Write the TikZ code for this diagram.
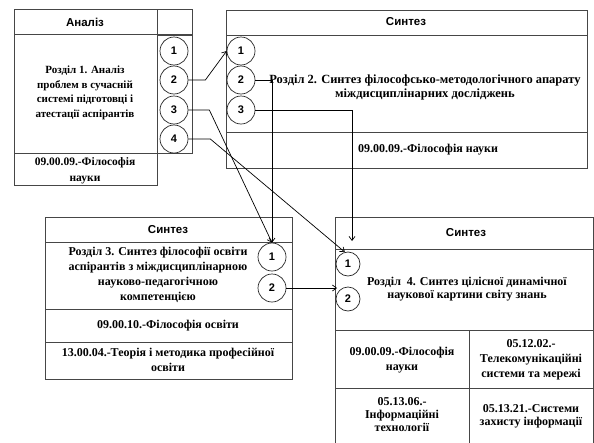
\documentclass[tikz,border=0pt]{standalone}
\usepackage{fontspec}
\setmainfont{Liberation Serif}
\newfontfamily\hdrfont{Liberation Sans}
\usetikzlibrary{arrows.meta,calc}
\tikzset{
  frame/.style={draw=gray!55!black, line width=0.8pt},
  hdrtext/.style={font=\hdrfont\bfseries\fontsize{11.5}{13}\selectfont, inner sep=0pt},
  bodytext/.style={font=\bfseries\fontsize{12}{15}\selectfont, align=center, inner sep=0pt},
  bodysmall/.style={bodytext, font=\bfseries\fontsize{11}{14.5}\selectfont},
  num/.style={circle, draw=gray!30!black, line width=0.7pt, minimum size=28pt, inner sep=0pt, font=\hdrfont\bfseries\fontsize{11}{12}\selectfont},
  numsmall/.style={num, minimum size=24pt},
  conn/.style={draw=black, line width=0.7pt, -{Straight Barb[length=4pt,width=6pt]}}
}
\begin{document}
\begin{tikzpicture}[x=1pt,y=-1pt]
\useasboundingbox (0,0) rectangle (594,442);
% ---- Box A
\draw[frame] (14,9) rectangle (157,185);
\draw[frame] (14,34) -- (157,34);
\draw[frame] (14,153) -- (157,153);
\draw[frame] (157,9) rectangle (192,34);
\draw[frame] (157,35) rectangle (192,153);
\node[hdrtext] (Ah) at (85,22) {Аналіз};
\node[bodysmall] (At) at (85,93) {Розділ 1. Аналіз\\проблем в сучасній\\системі підготовці і\\атестації аспірантів};
\node[bodysmall, font=\bfseries\fontsize{11.5}{16}\selectfont] (Af) at (85,171) {09.00.09.-Філософія\\науки};
\node[num] (A1) at (174,51) {1};
\node[num] (A2) at (174,80) {2};
\node[num] (A3) at (174,110) {3};
\node[num] (A4) at (174,139) {4};
% ---- Box B
\draw[frame] (226,10) rectangle (587,168);
\draw[frame] (226,35) -- (587,35);
\draw[frame] (226,132) -- (587,132);
\node[hdrtext] (Bh) at (406,22) {Синтез};
\node[bodytext, font=\bfseries\fontsize{12.5}{14}\selectfont] (Bt) at (425,87) {Розділ 2. Синтез філософсько-методологічного апарату\\міждисциплінарних досліджень};
\node[bodytext] (Bf) at (428,150) {09.00.09.-Філософія науки};
\node[num] (B1) at (241,51) {1};
\node[num] (B2) at (241,80) {2};
\node[num] (B3) at (241,110) {3};
% ---- Box C
\draw[frame] (45,217) rectangle (292,379);
\draw[frame] (45,242) -- (292,242);
\draw[frame] (45,309) -- (292,309);
\draw[frame] (45,342) -- (292,342);
\node[hdrtext] (Ch) at (168,230) {Синтез};
\node[bodytext] (Ct) at (158,275) {Розділ 3. Синтез філософії освіти\\аспірантів з міждисциплінарною\\науково-педагогічною\\компетенцією};
\node[bodytext] (Cf) at (168,326) {09.00.10.-Філософія освіти};
\node[bodytext] (Cg) at (168,360) {13.00.04.-Теорія і методика професійної\\освіти};
\node[num] (C1) at (272,257) {1};
\node[num] (C2) at (272,288) {2};
% ---- Box D
\draw[frame] (335,217) rectangle (593.5,450);
\draw[frame] (335,249) -- (593.5,249);
\draw[frame] (335,330) -- (593.5,330);
\draw[frame] (335,388) -- (593.5,388);
\draw[frame] (469,330) -- (469,450);
\node[hdrtext] (Dh) at (466,233) {Синтез};
\node[bodytext, font=\bfseries\fontsize{12}{13.5}\selectfont] (Dt) at (467,289) {Розділ\ \ 4. Синтез цілісної динамічної\\наукової картини світу знань};
\node[bodytext] (Da) at (402,360) {09.00.09.-Філософія\\науки};
\node[bodytext] (Db) at (531,360) {05.12.02.-\\Телекомунікаційні\\системи та мережі};
\node[bodytext, font=\bfseries\fontsize{12}{13}\selectfont] (Dc) at (402,415) {05.13.06.-\\Інформаційні\\технології};
\node[bodytext, font=\bfseries\fontsize{12}{13}\selectfont] (Dd) at (531,416) {05.13.21.-Системи\\захисту інформації};
\node[numsmall] (D1) at (348,264) {1};
\node[numsmall] (D2) at (348,299) {2};
\coordinate (Dtop) at (352,241);
\coordinate (Dleft) at (337,288);
% ---- connectors
\draw[conn] (A2.east) -- ++(17,0) -- (B1.west);
\draw[conn] (B2.east) -| (C1.north);
\draw[conn] (B3.east) -| (Dtop);
\draw[conn] (A3.east) -- ++(21,0) -- (C1.north);
\draw[conn] (A4.east) -- ++(22,0) -- (D1.105);
\draw[conn] (C2.east) -- (Dleft);
\end{tikzpicture}
\end{document}
